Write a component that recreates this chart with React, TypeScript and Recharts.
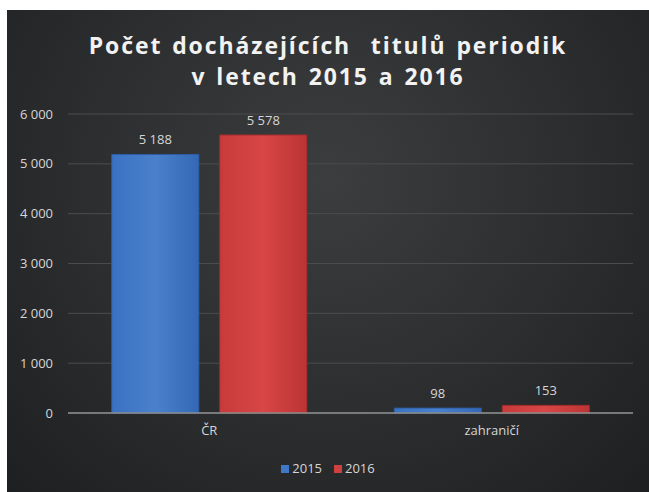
import React from "react";
import { BarChart, Bar, XAxis, YAxis, CartesianGrid, LabelList } from "recharts";

const categories = ["ČR", "zahraničí"];
const values2015 = [5188, 98];
const values2016 = [5578, 153];
const seriesNames = ["2015", "2016"];
const yTicks = [0, 1000, 2000, 3000, 4000, 5000, 6000];
const titleLines = ["Počet docházejících  titulů periodik", "v letech 2015 a 2016"];

const data = categories.map((c, i) => ({ name: c, y2015: values2015[i], y2016: values2016[i] }));

const fmt = (v: number) => String(v).replace(/\B(?=(\d{3})+(?!\d))/g, "\u00a0");

const FONT = "'Open Sans', 'DejaVu Sans', sans-serif";
const legendColors = ["#3f78c6", "#cf4040"];

export default function App() {
  return (
    <div
      style={{
        position: "absolute",
        left: 7,
        top: 10,
        width: 642,
        height: 482,
        background: "radial-gradient(ellipse at 50% 35%, #3c3d3f 0%, #2c2d2f 55%, #1e1f20 100%)",
        fontFamily: FONT,
      }}
    >
      <div
        style={{
          position: "absolute",
          left: 0,
          top: 20,
          width: 642,
          textAlign: "center",
          color: "#f2f2f2",
          fontWeight: 700,
          fontSize: 23,
          letterSpacing: 1.9,
          wordSpacing: 2,
          lineHeight: "31px",
          whiteSpace: "pre",
        }}
      >
        {titleLines.map((l) => (
          <div key={l}>{l}</div>
        ))}
      </div>
      <div style={{ position: "absolute", left: 0, top: 0 }}>
        <BarChart
          width={642}
          height={482}
          data={data}
          margin={{ top: 104, right: 16, bottom: 49, left: 0 }}
          barCategoryGap="15.5%"
          barGap={21}
        >
          <defs>
            <linearGradient id="gBlue" x1="0" y1="0" x2="1" y2="0">
              <stop offset="0%" stopColor="#3a72c2" />
              <stop offset="50%" stopColor="#4a80cc" />
              <stop offset="100%" stopColor="#3468b6" />
            </linearGradient>
            <linearGradient id="gRed" x1="0" y1="0" x2="1" y2="0">
              <stop offset="0%" stopColor="#c73b3b" />
              <stop offset="50%" stopColor="#d84646" />
              <stop offset="100%" stopColor="#bb3434" />
            </linearGradient>
          </defs>
          <CartesianGrid vertical={false} stroke="#4b4c4e" strokeWidth={1} />
          <XAxis
            dataKey="name"
            height={30}
            axisLine={{ stroke: "#8e8f91", strokeWidth: 1.5 }}
            tickLine={false}
            tickSize={0}
            tickMargin={13}
            tick={{ fill: "#d6d6d6", fontSize: 13, fontFamily: FONT }}
          />
          <YAxis
            width={61}
            domain={[0, 6000]}
            ticks={yTicks}
            axisLine={false}
            tickLine={false}
            tickSize={0}
            tickMargin={15}
            tickFormatter={fmt}
            tick={{ fill: "#d6d6d6", fontSize: 13, fontFamily: FONT }}
          />
          <Bar dataKey="y2015" name={seriesNames[0]} fill="url(#gBlue)" stroke="#2c5ea6" strokeWidth={1} isAnimationActive={false}>
            <LabelList dataKey="y2015" position="top" offset={10} formatter={fmt} fill="#d6d6d6" fontSize={13} fontFamily={FONT} />
          </Bar>
          <Bar dataKey="y2016" name={seriesNames[1]} fill="url(#gRed)" stroke="#a82c2c" strokeWidth={1} isAnimationActive={false}>
            <LabelList dataKey="y2016" position="top" offset={10} formatter={fmt} fill="#d6d6d6" fontSize={13} fontFamily={FONT} />
          </Bar>
        </BarChart>
      </div>
      <div
        style={{
          position: "absolute",
          left: 0,
          top: 450,
          width: 642,
          display: "flex",
          justifyContent: "center",
          gap: 12,
          fontSize: 13,
          color: "#d6d6d6",
          lineHeight: "17px",
        }}
      >
        {seriesNames.map((n, i) => (
          <div key={n} style={{ display: "flex", alignItems: "center", gap: 3 }}>
            <span style={{ display: "inline-block", width: 8, height: 8, background: legendColors[i] }} />
            <span>{n}</span>
          </div>
        ))}
      </div>
    </div>
  );
}
